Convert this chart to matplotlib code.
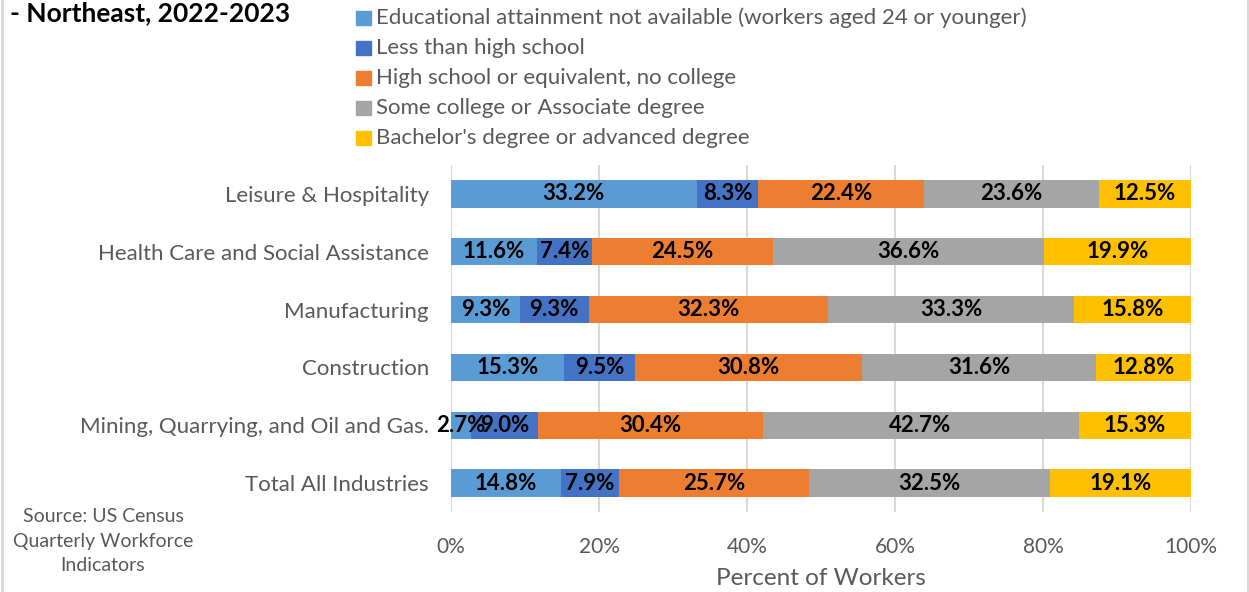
import matplotlib.pyplot as plt
from matplotlib.patches import Rectangle
from matplotlib.lines import Line2D

# shares of workers by education level, per industry (percent)
industries = ['Leisure & Hospitality', 'Health Care and Social Assistance', 'Manufacturing',
              'Construction', 'Mining, Quarrying, and Oil and Gas.', 'Total All Industries']
not_available = [33.2, 11.6, 9.3, 15.3, 2.7, 14.8]
less_than_hs = [8.3, 7.4, 9.3, 9.5, 9.0, 7.9]
high_school = [22.4, 24.5, 32.3, 30.8, 30.4, 25.7]
some_college = [23.6, 36.6, 33.3, 31.6, 42.7, 32.5]
bachelors = [12.5, 19.9, 15.8, 12.8, 15.3, 19.1]

series_names = ['Educational attainment not available (workers aged 24 or younger)',
                'Less than high school',
                'High school or equivalent, no college',
                'Some college or Associate degree',
                "Bachelor's degree or advanced degree"]
colors = ['#5B9BD5', '#4472C4', '#ED7D31', '#A5A5A5', '#FFC000']

plt.rcParams['font.family'] = ['Lato', 'DejaVu Sans']
grey = '#595959'

fig = plt.figure(figsize=(12.49, 5.92), dpi=100)
ax = fig.add_axes([451 / 1249, 1 - 512 / 592, 740 / 1249, 347 / 592])

ypos = list(range(len(industries)))
left = [0.0] * len(industries)
for vals, color in zip([not_available, less_than_hs, high_school, some_college, bachelors], colors):
    bars = ax.barh(ypos, vals, left=left, height=0.47, color=color, zorder=2)
    ax.bar_label(bars, labels=[f'{v:.1f}%' for v in vals], label_type='center',
                 fontsize=16, fontweight='bold', color='black')
    left = [l + v for l, v in zip(left, vals)]

ax.set_xlim(0, 100)
ax.set_ylim(len(industries) - 0.5, -0.5)
ax.set_xticks(range(0, 101, 20))
ax.set_xticklabels([f'{t}%' for t in range(0, 101, 20)])
ax.set_yticks(ypos)
ax.set_yticklabels(industries)
ax.tick_params(axis='both', length=0, colors=grey)
ax.tick_params(axis='y', pad=16, labelsize=16)
ax.tick_params(axis='x', pad=18, labelsize=15)
ax.grid(axis='x', color='#D9D9D9', linewidth=1.5, zorder=0)
for s in ax.spines.values():
    s.set_visible(False)
ax.set_xlabel('Percent of Workers', fontsize=17.5, color=grey, labelpad=8)

# legend drawn as a column of swatches
for i, (name, color) in enumerate(zip(series_names, colors)):
    yc = 1 - (18 + 30 * i) / 592
    fig.patches.append(Rectangle((356 / 1249, yc - 7 / 592), 15 / 1249, 14 / 592,
                                 transform=fig.transFigure, color=color))
    fig.text(376 / 1249, yc, name, fontsize=16, color=grey, va='center', ha='left')

fig.text(10 / 1249, 1 - 1 / 592, '- Northeast, 2022-2023', fontsize=19, fontweight='bold',
         color='black', va='top', ha='left')
fig.text(103 / 1249, 1 - 541 / 592, 'Source: US Census\nQuarterly Workforce\nIndicators',
         fontsize=14, color=grey, ha='center', va='center', linespacing=1.55)

# chart border at the sides
fig.lines.append(Line2D([1.5 / 1249, 1.5 / 1249], [0, 1], transform=fig.transFigure,
                        color='#D9D9D9', linewidth=2))
fig.lines.append(Line2D([1 - 1.5 / 1249, 1 - 1.5 / 1249], [0, 1], transform=fig.transFigure,
                        color='#D9D9D9', linewidth=2))

fig.savefig('out.png', dpi=100)
